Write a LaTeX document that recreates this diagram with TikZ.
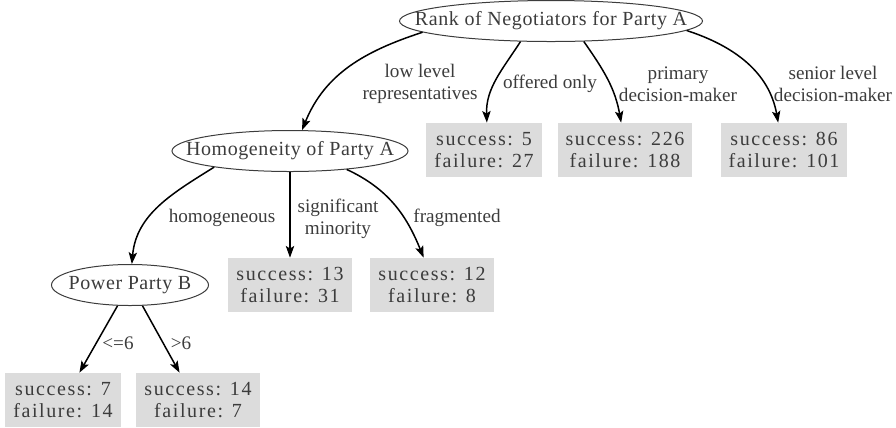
\documentclass[tikz,border=0pt]{standalone}
\usepackage{fontspec}
\setmainfont{Liberation Serif}
\newfontfamily\leaffont[LetterSpace=8]{Liberation Serif}
\newfontfamily\splitfont[LetterSpace=3]{Liberation Serif}
\usetikzlibrary{shapes.geometric,arrows.meta}
\definecolor{leafgray}{RGB}{220,220,220}
\definecolor{inkgray}{RGB}{60,60,60}
\def\pxl{0.6pt}
\begin{document}
\begin{tikzpicture}
	[x=\pxl,y=-\pxl,
	every node/.style={text=inkgray,font=\fontsize{11.5}{13.5}\selectfont},
	split/.style={shape=ellipse,draw=inkgray,line width=.6pt,inner sep=0pt,
		minimum height=41*\pxl,font=\fontsize{12}{14}\splitfont,
		execute at begin node={\hbox to 0pt\bgroup\hss},
		execute at end node={\hss\egroup}},
	leaf/.style={fill=leafgray,inner xsep=8*\pxl,inner ysep=0pt,
		minimum height=54*\pxl,align=center,
		font=\fontsize{12}{13.5}\leaffont},
	cond/.style={align=center,inner sep=0pt},
	branch/.style={line width=.9pt,-{Stealth[length=7pt,width=5pt,inset=1.5pt]}}]
	\useasboundingbox (0,0) rectangle (896,427);
	% split nodes
	\node[split,minimum width=303*\pxl] (rank)  at (551,21)  {Rank of Negotiators for Party A};
	\node[split,minimum width=236*\pxl] (homog) at (290,151) {Homogeneity of Party A};
	\node[split,minimum width=157*\pxl] (power) at (130,285) {Power Party B};
	% leaves
	\node[leaf] (offered) at (484,150) {success: 5\\failure: 27};
	\node[leaf] (primary) at (625,150) {success: 226\\failure: 188};
	\node[leaf] (senior)  at (784,150) {success: 86\\failure: 101};
	\node[leaf] (signif)  at (290,285) {success: 13\\failure: 31};
	\node[leaf] (fragm)   at (432,285) {success: 12\\failure: 8};
	\node[leaf] (low6)    at (63,400)  {success: 7\\failure: 14};
	\node[leaf] (high6)   at (198,400) {success: 14\\failure: 7};
	% branch conditions
	\node[cond] (lowlbl)  at (420,84)  {low level\\representatives};
	\node[cond] (offlbl)  at (550,84)  {offered only};
	\node[cond] (primlbl) at (678,84)  {primary\\decision-maker};
	\node[cond] (senlbl)  at (833,84)  {senior level\\decision-maker};
	\node[cond] (homlbl)  at (222,218) {homogeneous};
	\node[cond] (siglbl)  at (338,219) {significant\\minority};
	\node[cond] (fraglbl) at (457,218) {fragmented};
	\node[cond] (le6lbl)  at (118,343) {<=6};
	\node[cond] (gt6lbl)  at (181,343) {>6};
	\draw[branch]
	(rank.185) to[out=198,in=68] (homog.60) ;
	\draw[branch]
	(rank.214) to[out=237,in=92] (offered.84) ;
	\draw[branch]
	(rank.328) to[out=-55,in=100] (primary.98) ;
	\draw[branch]
	(rank.356) to[out=-18,in=100] (senior.102) ;
	\draw[branch]
	(homog.192) to[out=212,in=85] (power.85) ;
	\draw[branch]
	(homog.south) -- (signif.north) ;
	\draw[branch]
	(homog.342) to[out=-25,in=112] (fragm.107) ;
	\draw[branch]
	(power.239) -- (low6.59) ;
	\draw[branch]
	(power.301) -- (high6.124) ;
\end{tikzpicture}
\end{document}
